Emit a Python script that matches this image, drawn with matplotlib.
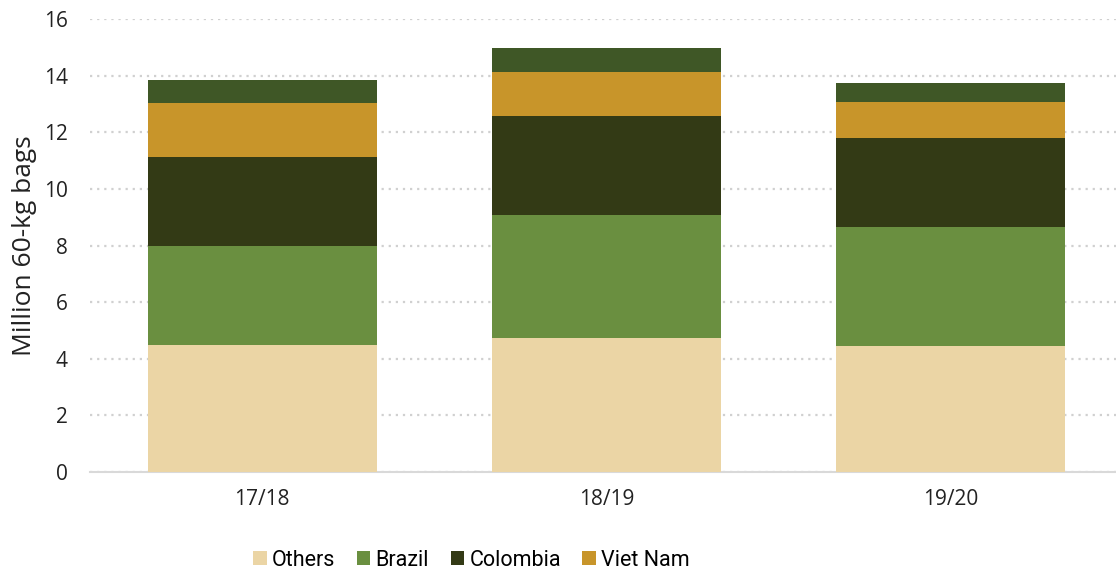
import numpy as np
import matplotlib.pyplot as plt

seasons = ['17/18', '18/19', '19/20']
others = [4.49, 4.73, 4.45]
brazil = [3.49, 4.35, 4.20]
colombia = [3.15, 3.49, 3.15]
viet_nam = [1.90, 1.56, 1.27]
rest = [0.82, 0.85, 0.67]

series = [('Others', others, '#ebd5a5'),
          ('Brazil', brazil, '#6a8f40'),
          ('Colombia', colombia, '#333a15'),
          ('Viet Nam', viet_nam, '#c8952a'),
          ('_other', rest, '#3f5726')]

plt.rcParams['font.family'] = ['Open Sans', 'DejaVu Sans']

fig = plt.figure(figsize=(11.16, 5.73), dpi=100)
ax = fig.add_axes([90 / 1116, 1 - 472 / 573, 1 - 90 / 1116, 453 / 573])

x = np.arange(len(seasons))
bottom = np.zeros(len(seasons))
for name, vals, col in series:
    ax.bar(x, vals, 0.665, bottom=bottom, color=col, label=name, zorder=3)
    bottom += np.array(vals)

ax.set_ylim(0, 16)
ax.set_xlim(-0.5, 2.48)
ax.set_yticks(range(0, 17, 2))
ax.set_xticks(x)
ax.set_xticklabels(seasons)
ax.yaxis.grid(True, linestyle=(0, (1, 2.2)), color='#d0d0d0', linewidth=1.6)
ax.set_axisbelow(True)
for s in ['top', 'right', 'left']:
    ax.spines[s].set_visible(False)
ax.spines['bottom'].set_color('#d9d9d9')
ax.spines['bottom'].set_linewidth(1.5)
ax.tick_params(length=0, labelsize=15, colors='#222222')
ax.tick_params(axis='x', pad=12)
ax.tick_params(axis='y', pad=16)
ax.set_ylabel('Million 60-kg bags', fontsize=19, color='#222222')
ax.yaxis.set_label_coords(-0.052, 0.5)

handles, labels = ax.get_legend_handles_labels()
fig.legend(handles, labels, loc='lower center', bbox_to_anchor=(0.4225, -0.03), ncol=4,
           frameon=False,
           prop={'family': ['Roboto', 'DejaVu Sans'], 'size': 15.5},
           handlelength=0.62, handleheight=0.62, handletextpad=0.25, columnspacing=1.0)

fig.savefig('out.png', dpi=100)
